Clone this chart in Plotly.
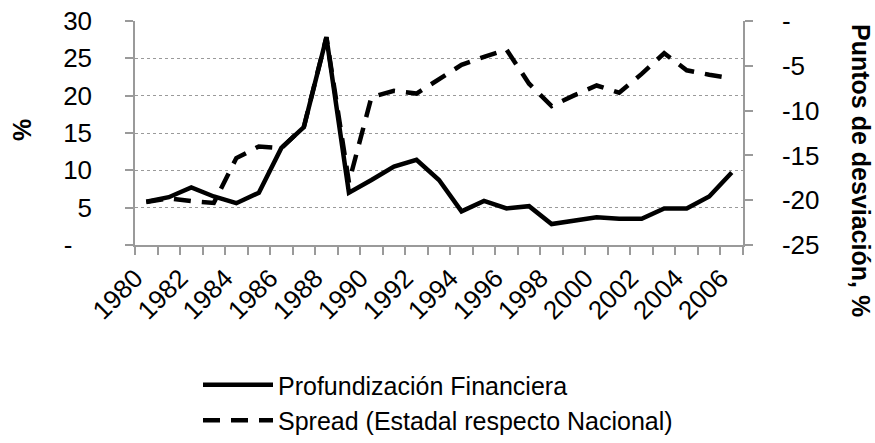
import plotly.graph_objects as go

years = list(range(1980, 2007))
profundizacion = [5.8, 6.4, 7.7, 6.5, 5.6, 7.0, 13.0, 15.8, 27.8, 7.0, 8.7, 10.5, 11.4, 8.7,
                  4.5, 5.9, 4.9, 5.2, 2.8, 3.2, 3.7, 3.5, 3.5, 4.9, 4.9, 6.5, 9.7]
spread = [-20.2, -19.8, -20.1, -20.3, -15.3, -14.0, -14.2, -11.8, -1.8, -18.0, -8.5, -7.8, -8.1,
          -6.5, -4.9, -4.0, -3.2, -7.0, -9.5, -8.3, -7.2, -8.0, -5.9, -3.6, -5.5, -6.0, -6.4]
left_ticks = [0, 5, 10, 15, 20, 25, 30]
left_text = ["-\u2009\u00a0\u00a0", "5", "10", "15", "20", "25", "30"]
right_ticks = [-25, -20, -15, -10, -5, 0]
right_text = ["-25", "-20", "-15", "-10", "-5", "-"]
label_years = list(range(1980, 2007, 2))

W, H = 875, 443
L, R, T, B = 135, 743, 21, 245
FONT = "Liberation Sans, Arial, sans-serif"
FS = 26
GRAY = "#9a9a9a"


def px(x):
    return (x - L) / (R - L)


def py(y):
    return (B - y) / (B - T)


fig = go.Figure()
fig.add_trace(go.Scatter(x=years, y=profundizacion, mode="lines", name="Profundización Financiera",
                         line=dict(color="black", width=4.5)))
fig.add_trace(go.Scatter(x=years, y=spread, mode="lines", name="Spread (Estadal respecto Nacional)",
                         yaxis="y2", line=dict(color="black", width=4.5, dash="17px,11px")))

fig.update_layout(
    width=W, height=H,
    margin=dict(l=L, r=W - R, t=T, b=H - B, autoexpand=False),
    paper_bgcolor="white", plot_bgcolor="white",
    font=dict(family=FONT, size=FS, color="black"),
    xaxis=dict(range=[1979.5, 2006.5], tickvals=label_years, ticktext=[str(y) for y in label_years],
               tickangle=-45, ticks="", showgrid=False, showline=True, linecolor=GRAY, linewidth=1.5,
               zeroline=False, ticklabelstandoff=6, ticklabelshift=-11,
               minor=dict(ticks="outside", tick0=1979.5, dtick=1, ticklen=8, tickcolor=GRAY, tickwidth=1.5,
                          showgrid=False)),
    yaxis=dict(range=[0, 30], tickvals=left_ticks, ticktext=left_text, showgrid=True, gridcolor=GRAY,
               griddash="dot", gridwidth=1, showline=True, linecolor=GRAY, linewidth=1.5,
               ticks="outside", ticklen=8, tickcolor=GRAY, tickwidth=1.5, zeroline=False,
               ticklabelstandoff=28),
    yaxis2=dict(range=[-25, 0], tickvals=right_ticks, ticktext=right_text, overlaying="y", side="right",
                showgrid=False, showline=True, linecolor=GRAY, linewidth=1.5, ticks="outside", ticklen=8,
                tickcolor=GRAY, tickwidth=1.5, zeroline=False, ticklabelstandoff=24),
    showlegend=True,
    legend=dict(x=px(198), xanchor="left", y=py(362), yanchor="top", bgcolor="rgba(0,0,0,0)",
                font=dict(family=FONT, size=25, color="black"), itemwidth=70, tracegroupgap=0),
    annotations=[
        dict(text="<b>%</b>", x=px(22), y=py(130), xref="paper", yref="paper", showarrow=False, textangle=-90,
             font=dict(family=FONT, size=25, color="black"), xanchor="center", yanchor="middle"),
        dict(text="<b>Puntos de desviación, %</b>", x=px(861), y=py(170), xref="paper", yref="paper",
             showarrow=False, textangle=90, font=dict(family=FONT, size=25, color="black"),
             xanchor="center", yanchor="middle"),
    ],
)

fig.write_html("out.html", config={"displayModeBar": False},
               post_script="document.body.style.margin='0';document.body.style.overflow='hidden';")
